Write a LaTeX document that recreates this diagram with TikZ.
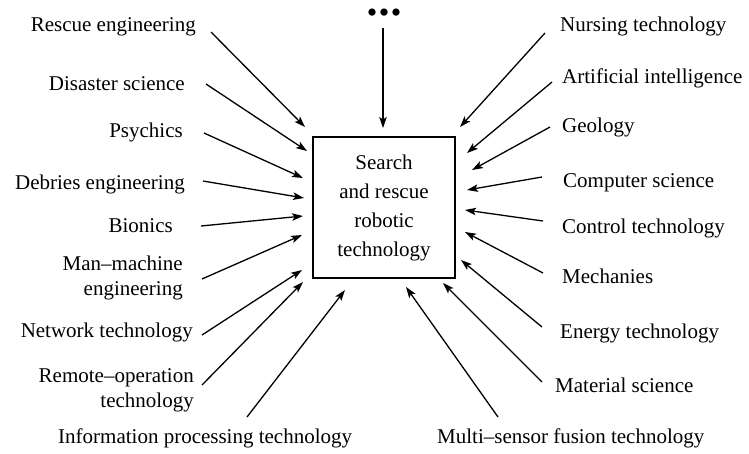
\documentclass[tikz,border=0pt]{standalone}
\usepackage{fontspec}
\setmainfont{Liberation Serif}
\usetikzlibrary{arrows.meta}

\begin{document}
\begin{tikzpicture}[x=1pt, y=-1pt,
		lbl/.style={inner sep=0pt, font=\fontsize{21}{25}\selectfont},
		arr/.style={-{Stealth[length=11pt,width=7.5pt,inset=2.5pt]}, line width=1.3pt}]
		\useasboundingbox (0,0) rectangle (749,453);
		% central box
		\node[draw, line width=1.4pt, minimum width=142pt, minimum height=141pt, inner sep=0pt, align=center, font=\fontsize{21}{29}\selectfont] (robot) at (384,207.5) {Search\\and rescue\\robotic\\technology};
		% left labels
		\node[lbl, anchor=base east] (resc) at (196,31) {Rescue engineering};
		\node[lbl, anchor=base east] (dis) at (185,90) {Disaster science};
		\node[lbl, anchor=base east] (psy) at (183,137) {Psychics};
		\node[lbl, anchor=base east] (deb) at (185,189) {Debries engineering};
		\node[lbl, anchor=base east] (bio) at (173,232) {Bionics};
		\node[lbl, anchor=east, align=right] (man) at (183,278) {Man–machine\\engineering};
		\node[lbl, anchor=base east] (net) at (193,337) {Network technology};
		\node[lbl, anchor=east, align=right] (rem) at (194,390) {Remote–operation\\technology};
		\node[lbl, anchor=base west] (info) at (58,443) {Information processing technology};
		% top
		\node[lbl, anchor=base, font=\fontsize{30}{30}\selectfont] (dots) at (384,22) {•\hspace{1.5pt}•\hspace{1.5pt}•};
		% right labels
		\node[lbl, anchor=base west] (nur) at (560,31) {Nursing technology};
		\node[lbl, anchor=base west] (art) at (562,83) {Artificial intelligence};
		\node[lbl, anchor=base west] (geo) at (562,132) {Geology};
		\node[lbl, anchor=base west] (comp) at (563,187) {Computer science};
		\node[lbl, anchor=base west] (ctrl) at (562,233) {Control technology};
		\node[lbl, anchor=base west] (mech) at (562,283) {Mechanies};
		\node[lbl, anchor=base west] (ener) at (560,338) {Energy technology};
		\node[lbl, anchor=base west] (mat) at (555,392) {Material science};
		\node[lbl, anchor=base west] (multi) at (437,443) {Multi–sensor fusion technology};
		% arrow tips round the box
		\coordinate (tResc) at (305,127);
		\coordinate (tDis) at (307,151);
		\coordinate (tPsy) at (303,178);
		\coordinate (tDeb) at (304,198);
		\coordinate (tBio) at (303,216);
		\coordinate (tMan) at (302,235);
		\coordinate (tNet) at (302,270);
		\coordinate (tRem) at (303,282);
		\coordinate (tInfo) at (345,290);
		\coordinate (tTop) at (383,128);
		\coordinate (tNur) at (460,127);
		\coordinate (tArt) at (467,153);
		\coordinate (tGeo) at (472,170);
		\coordinate (tComp) at (467,190);
		\coordinate (tCtrl) at (465,210);
		\coordinate (tMech) at (465,232);
		\coordinate (tEner) at (461,260);
		\coordinate (tMat) at (443,283);
		\coordinate (tMulti) at (406,287);
		% arrows
		\draw[arr] ([shift={(15,1)}]resc.base east) -- (tResc);
		\draw[arr] ([shift={(21,-6)}]dis.base east) -- (tDis);
		\draw[arr] ([shift={(21,-4)}]psy.base east) -- (tPsy);
		\draw[arr] ([shift={(18,-8)}]deb.base east) -- (tDeb);
		\draw[arr] ([shift={(28,-6)}]bio.base east) -- (tBio);
		\draw[arr] ([shift={(19,1)}]man.east) -- (tMan);
		\draw[arr] ([shift={(9,-2)}]net.base east) -- (tNet);
		\draw[arr] ([shift={(8,-5)}]rem.east) -- (tRem);
		\draw[arr] ([shift={(189,-26)}]info.base west) -- (tInfo);
		\draw[arr] ([shift={(-1,6)}]dots.base) -- (tTop);
		\draw[arr] ([shift={(-15,2)}]nur.base west) -- (tNur);
		\draw[arr] ([shift={(-10,-1)}]art.base west) -- (tArt);
		\draw[arr] ([shift={(-12,-5)}]geo.base west) -- (tGeo);
		\draw[arr] ([shift={(-21,-10)}]comp.base west) -- (tComp);
		\draw[arr] ([shift={(-19,-12)}]ctrl.base west) -- (tCtrl);
		\draw[arr] ([shift={(-19,-10)}]mech.base west) -- (tMech);
		\draw[arr] ([shift={(-18,-11)}]ener.base west) -- (tEner);
		\draw[arr] ([shift={(-13,-10)}]mat.base west) -- (tMat);
		\draw[arr] ([shift={(61,-26)}]multi.base west) -- (tMulti);
\end{tikzpicture}
\end{document}
